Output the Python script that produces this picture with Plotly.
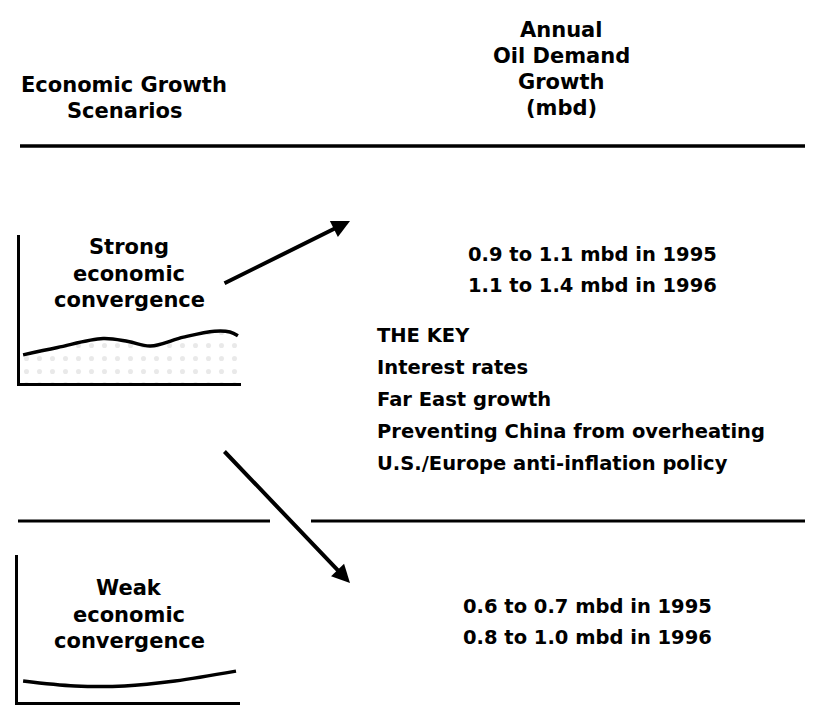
import plotly.graph_objects as go

W, H = 813, 723

# ---- data ----
left_header = ["Economic Growth", "Scenarios"]
right_header = ["Annual", "Oil Demand", "Growth", "(mbd)"]
scenario_strong = ["Strong", "economic", "convergence"]
scenario_weak = ["Weak", "economic", "convergence"]
strong_growth = ["0.9 to 1.1 mbd in 1995", "1.1 to 1.4 mbd in 1996"]
weak_growth = ["0.6 to 0.7 mbd in 1995", "0.8 to 1.0 mbd in 1996"]
key_lines = ["THE KEY", "Interest rates", "Far East growth",
             "Preventing China from overheating", "U.S./Europe anti-inflation policy"]

strong_x = [1.4, 17, 37.6, 49, 59, 74, 88, 95, 98.6]
strong_y = [1.9, 2.4, 3.0, 2.8, 2.5, 3.1, 3.5, 3.45, 3.2]
weak_x = [2.3, 25.7, 48, 70.7, 98.2]
weak_y = [1.43, 1.09, 1.09, 1.43, 2.1]

FONT = dict(family="DejaVu Sans", size=19, color="black", weight="bold")


def px(x):
    return x / W


def py(y):
    return 1 - y / H


fig = go.Figure()

fig.add_trace(go.Scatter(x=[0, W], y=[0, H], mode="markers",
                         marker=dict(opacity=0), hoverinfo="skip", showlegend=False))

fig.add_trace(go.Scatter(x=strong_x, y=strong_y, mode="lines", line=dict(color="black", width=3.5, shape="spline"),
                         fill="tozeroy", fillcolor="rgba(0,0,0,0)",
                         fillpattern=dict(shape=".", fgcolor="#d4d4d4", bgcolor="white", size=13, solidity=0.12),
                         xaxis="x2", yaxis="y2", showlegend=False, hoverinfo="skip"))
fig.add_trace(go.Scatter(x=weak_x, y=weak_y, mode="lines", line=dict(color="black", width=3.5, shape="spline"),
                         xaxis="x3", yaxis="y3", showlegend=False, hoverinfo="skip"))

mini_axis = dict(showline=True, linecolor="black", linewidth=3, showgrid=False, zeroline=False,
                 showticklabels=False, ticks="", fixedrange=True)

fig.update_layout(
    width=W, height=H, margin=dict(l=0, r=0, t=0, b=0),
    paper_bgcolor="white", plot_bgcolor="rgba(0,0,0,0)",
    xaxis=dict(range=[0, W], visible=False, domain=[0, 1], fixedrange=True),
    yaxis=dict(range=[H, 0], visible=False, domain=[0, 1], fixedrange=True),
    xaxis2=dict(mini_axis, range=[0, 100], domain=[px(12), px(233)], anchor="y2"),
    yaxis2=dict(mini_axis, range=[0, 10], domain=[py(375), py(227)], anchor="x2"),
    xaxis3=dict(mini_axis, range=[0, 100], domain=[px(10), px(232)], anchor="y3"),
    yaxis3=dict(mini_axis, range=[0, 10], domain=[py(694), py(547)], anchor="x3"),
    showlegend=False,
)

shapes = [
    dict(type="line", x0=12, x1=813, y0=138, y1=138, xref="x", yref="y", line=dict(color="black", width=3.5)),
    dict(type="line", x0=10, x1=262, y0=513, y1=513, xref="x", yref="y", line=dict(color="black", width=3)),
    dict(type="line", x0=303, x1=813, y0=513, y1=513, xref="x", yref="y", line=dict(color="black", width=3)),
]
fig.update_layout(shapes=shapes)

ann = []


def text(t, x, y, xanchor="center", size=19):
    f = dict(FONT)
    f["size"] = size
    ann.append(dict(text=t, x=x, y=y, xref="x", yref="y", xanchor=xanchor, yanchor="middle",
                    showarrow=False, font=f))


for i, t in enumerate(left_header):
    text(t, 116, 77 + 26 * i, size=21)
for i, t in enumerate(right_header):
    text(t, 553, 22 + 26 * i, size=21)
for i, t in enumerate(scenario_strong):
    text(t, 121, 239 + 26.5 * i, size=21)
for i, t in enumerate(scenario_weak):
    text(t, 121, 580 + 26.5 * i, size=21)
for i, t in enumerate(strong_growth):
    text(t, 584, 246 + 31 * i, size=19.5)
for i, t in enumerate(weak_growth):
    text(t, 579, 598 + 31 * i, size=19.5)
for i, t in enumerate(key_lines):
    text(t, 367, 327 + 32 * i, xanchor="left", size=19.5)

for (x0, y0, x1, y1) in [(215, 276, 342, 213), (215, 442, 342, 575)]:
    ann.append(dict(x=x1, y=y1, ax=x0, ay=y0, xref="x", yref="y", axref="x", ayref="y",
                    showarrow=True, arrowhead=2, arrowsize=0.9, arrowwidth=4, arrowcolor="black", text=""))

fig.update_layout(annotations=ann)

fig.write_html("out.html")
